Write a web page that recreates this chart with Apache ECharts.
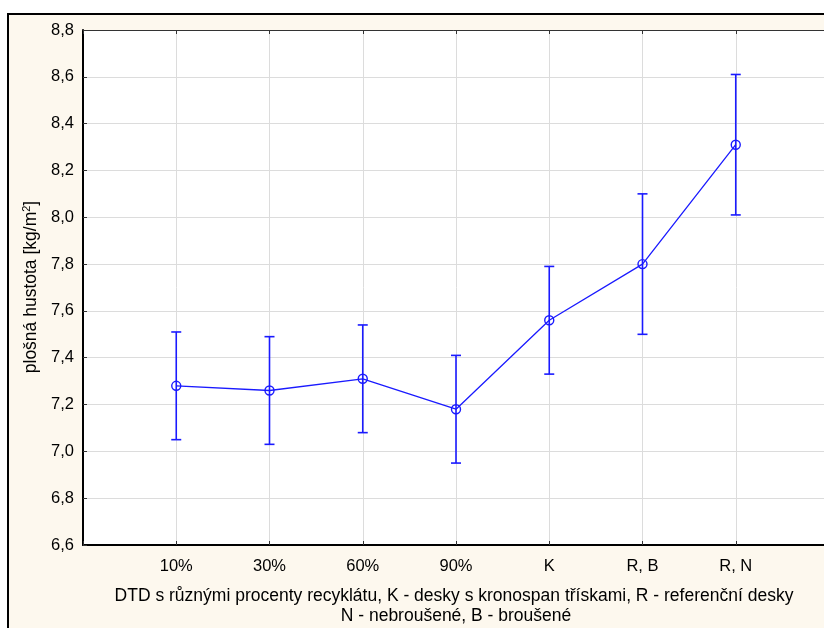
<!DOCTYPE html>
<html>
<head>
<meta charset="utf-8">
<script src="https://cdn.jsdelivr.net/npm/echarts@6/dist/echarts.min.js"></script>
<style>
  html, body { margin: 0; padding: 0; background: #ffffff; }
  #chart { width: 824px; height: 628px; }
</style>
</head>
<body>
<div id="chart"></div>
<script>
// Group labels along the horizontal axis
const categories = ['10%', '30%', '60%', '90%', 'K', 'R, B', 'R, N'];
// Mean areal density per group [kg/m2]
const means = [7.28, 7.26, 7.31, 7.18, 7.56, 7.80, 8.31];
// Lower and upper ends of the error bars
const lower = [7.05, 7.03, 7.08, 6.95, 7.33, 7.50, 8.01];
const upper = [7.51, 7.49, 7.54, 7.41, 7.79, 8.10, 8.61];

const yTicks = { min: 6.6, max: 8.8, step: 0.2 };

const blue = '#1a1aff';
const font = '"Liberation Sans", Arial, sans-serif';

const lineData = means.map((m, i) => [i + 1, m]);
const barData = means.map((m, i) => [i + 1, lower[i], upper[i]]);

const chart = echarts.init(document.getElementById('chart'), null, { renderer: 'canvas' });

chart.setOption({
  animation: false,
  backgroundColor: '#ffffff',
  textStyle: { fontFamily: font },
  graphic: [
    {
      type: 'rect', z: -10, silent: true,
      shape: { x: 8, y: 14, width: 830, height: 630 },
      style: { fill: '#fdf8ee', stroke: '#000000', lineWidth: 2 }
    },
    {
      type: 'text', z: 10,
      x: 31, y: 287, rotation: Math.PI / 2,
      style: {
        text: '{a|plošná hustota [kg/m}{s|2}{a|]}',
        align: 'center', verticalAlign: 'middle',
        rich: {
          a: { fontSize: 17.5, fontFamily: font, fill: '#000' },
          s: { fontSize: 11, fontFamily: font, fill: '#000', verticalAlign: 'top', padding: [0, 0, 8, 0] }
        }
      }
    },
    {
      type: 'text', z: 10,
      x: 454, y: 596,
      style: {
        text: 'DTD s různými procenty recyklátu, K - desky s kronospan třískami, R - referenční desky',
        align: 'center', verticalAlign: 'middle',
        font: '17.5px ' + font, fill: '#000'
      }
    },
    {
      type: 'text', z: 10,
      x: 456, y: 616,
      style: {
        text: 'N - nebroušené, B - broušené',
        align: 'center', verticalAlign: 'middle',
        font: '17.5px ' + font, fill: '#000'
      }
    }
  ],
  grid: {
    left: 83, top: 30, width: 746, height: 515,
    outerBoundsMode: 'none',
    show: true, backgroundColor: '#ffffff', borderWidth: 0
  },
  xAxis: [
    {
      type: 'value', min: 0, max: 8, interval: 1, position: 'bottom',
      axisLine: { show: true, onZero: false, lineStyle: { color: '#000', width: 2 } },
      axisTick: { show: true, inside: true, length: 4, lineStyle: { color: '#333' } },
      axisLabel: {
        fontSize: 16.5, color: '#000', margin: 13, fontFamily: font,
        formatter: v => (v >= 1 && v <= categories.length) ? categories[v - 1] : ''
      },
      splitLine: { show: true, lineStyle: { color: '#dcdcdc', width: 1 } }
    },
    {
      type: 'value', min: 0, max: 8, interval: 1, position: 'top',
      axisLine: { show: true, onZero: false, lineStyle: { color: '#333', width: 1 } },
      axisTick: { show: true, inside: true, length: 4, lineStyle: { color: '#333' } },
      axisLabel: { show: false },
      splitLine: { show: false }
    }
  ],
  yAxis: {
    type: 'value', min: yTicks.min, max: yTicks.max, interval: yTicks.step,
    axisLine: { show: true, onZero: false, lineStyle: { color: '#000', width: 2 } },
    axisTick: { show: true, inside: true, length: 4, lineStyle: { color: '#333' } },
    axisLabel: {
      fontSize: 16.5, color: '#000', margin: 9, fontFamily: font,
      formatter: v => v.toFixed(1).replace('.', ',')
    },
    splitLine: { show: true, lineStyle: { color: '#dcdcdc', width: 1 } }
  },
  series: [
    {
      type: 'custom',
      xAxisIndex: 0,
      data: barData,
      z: 3,
      renderItem: function (params, api) {
        const x = api.value(0);
        const lo = api.coord([x, api.value(1)]);
        const hi = api.coord([x, api.value(2)]);
        const half = 5;
        const style = { stroke: blue, lineWidth: 1.6, fill: null };
        return {
          type: 'group',
          children: [
            { type: 'line', shape: { x1: lo[0], y1: lo[1], x2: hi[0], y2: hi[1] }, style },
            { type: 'line', shape: { x1: lo[0] - half, y1: lo[1], x2: lo[0] + half, y2: lo[1] }, style },
            { type: 'line', shape: { x1: hi[0] - half, y1: hi[1], x2: hi[0] + half, y2: hi[1] }, style }
          ]
        };
      }
    },
    {
      type: 'line',
      xAxisIndex: 0,
      data: lineData,
      z: 4,
      symbol: 'circle',
      symbolSize: 9,
      showSymbol: true,
      lineStyle: { color: blue, width: 1.3 },
      itemStyle: { color: 'rgba(255,255,255,0)', borderColor: blue, borderWidth: 1.4 }
    }
  ]
});
</script>
</body>
</html>
